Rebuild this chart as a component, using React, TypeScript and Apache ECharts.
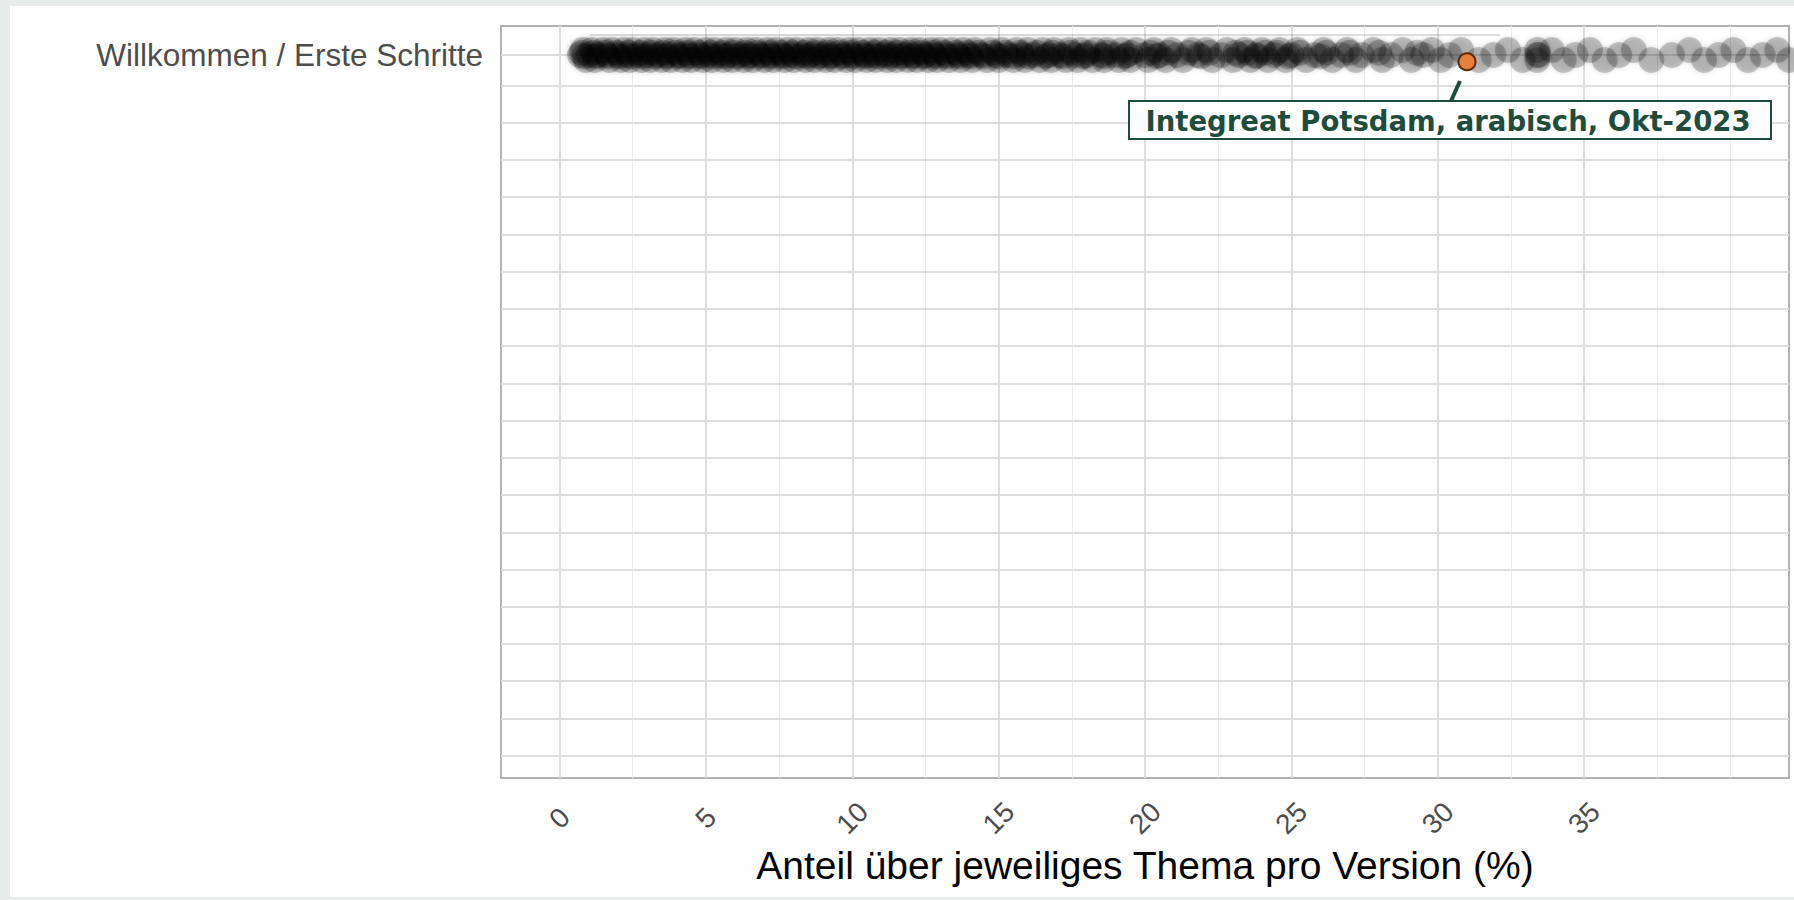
import React, { useEffect, useRef } from 'react';
import * as echarts from 'echarts';

// ---------- data ----------
const categories: string[] = [
  'Willkommen / Erste Schritte',
  '', '', '', '', '', '', '', '', '', '',
  '', '', '', '', '', '', '', '', '',
];

const xTickValues = [0, 5, 10, 15, 20, 25, 30, 35];
const xMajorGrid = [0, 5, 10, 15, 20, 25, 30, 35];
const xMinorGrid = [2.5, 7.5, 12.5, 17.5, 22.5, 27.5, 32.5, 37.5, 40];

// Shares (%) of the topic "Willkommen / Erste Schritte" per version, read off the strip
// (upper / two centre / middle / lower jitter positions)
const upperLane = [
  0.8, 1.1, 1.5, 1.8, 2.2, 2.5, 2.9, 3.2, 3.6, 3.9, 4.3, 4.6, 5.0, 5.3, 5.7, 6.0, 6.4, 6.7, 7.1, 7.4,
  7.8, 8.1, 8.5, 8.8, 9.2, 9.5, 9.9, 10.2, 10.6, 10.9, 11.3, 11.6, 12.0, 12.3, 12.7, 13.0, 13.4, 13.8,
  14.2, 14.7, 15.1, 15.6, 16.0, 16.5, 16.9, 17.4, 17.8, 18.3, 18.7, 19.2, 19.7,
  20.3, 20.9, 21.6, 22.1, 22.8, 23.4, 24.0, 24.6, 25.2, 26.1, 26.9, 27.8, 28.8, 29.8, 30.8,
  32.4, 33.4, 33.9, 35.2, 36.7, 38.6, 40.1, 41.6,
];
const coreLane = [
  0.85, 1.25, 1.65, 2.05, 2.45, 2.85, 3.25, 3.65, 4.05, 4.45, 4.85, 5.25, 5.65, 6.05, 6.45, 6.85,
  7.25, 7.65, 8.05, 8.45, 8.85, 9.25, 9.65, 10.05, 10.45, 10.85, 11.25, 11.65, 12.05, 12.45, 12.85,
  13.25, 13.65, 14.05, 14.5, 15.0, 15.5, 16.0, 16.6, 17.2, 17.9, 18.6, 19.3,
  20.4, 21.9, 23.8, 24.9, 26.0,
];
const coreLane2 = [
  0.75, 1.15, 1.55, 1.95, 2.35, 2.75, 3.15, 3.55, 3.95, 4.35, 4.75, 5.15, 5.55, 5.95, 6.35, 6.75,
  7.15, 7.55, 7.95, 8.35, 8.75, 9.15, 9.55, 9.95, 10.35, 10.75, 11.15, 11.55, 11.95, 12.35, 12.75,
  13.15, 13.55, 13.95, 14.3, 14.8, 15.25, 15.75, 16.3, 16.85, 17.45, 18.05, 18.7, 19.5,
  20.2, 20.8, 21.5, 22.2, 23.1, 23.5, 24.1, 24.5, 25.3, 26.2, 27.0, 28.0, 29.3,
];
const middleLane = [
  0.7, 1.0, 1.3, 1.6, 2.0, 2.3, 2.7, 3.0, 3.4, 3.7, 4.1, 4.4, 4.8, 5.1, 5.5, 5.8, 6.2, 6.5, 6.9, 7.2,
  7.6, 7.9, 8.3, 8.6, 9.0, 9.3, 9.7, 10.0, 10.4, 10.7, 11.1, 11.4, 11.8, 12.1, 12.5, 12.8, 13.2, 13.6, 14.0,
  14.4, 14.9, 15.3, 15.8, 16.2, 16.7, 17.1, 17.6, 18.0, 18.5, 19.0, 19.4, 20.0,
  20.5, 21.1, 21.8, 22.6, 23.2, 23.8, 24.4, 25.0, 25.8, 26.7, 27.4, 28.4, 29.5, 30.4, 31.9,
  33.4, 33.45, 34.7, 36.2, 38.0, 39.6, 41.1,
];
const lowerLane = [
  0.9, 1.2, 1.7, 2.1, 2.4, 2.8, 3.1, 3.5, 3.8, 4.2, 4.5, 4.9, 5.2, 5.6, 5.9, 6.3, 6.6, 7.0, 7.3, 7.7,
  8.0, 8.4, 8.7, 9.1, 9.4, 9.8, 10.1, 10.5, 10.8, 11.2, 11.5, 11.9, 12.2, 12.6, 12.9, 13.3, 13.7,
  14.1, 14.6, 15.0, 15.5, 15.9, 16.4, 16.8, 17.3, 17.7, 18.2, 18.6, 19.1, 19.5,
  20.1, 20.7, 21.3, 22.3, 23.0, 23.6, 24.2, 24.8, 25.5, 26.4, 27.2, 28.1, 29.1, 30.1, 31.4,
  32.9, 33.4, 34.3, 35.7, 37.3, 39.1, 40.6, 42.0,
];

const highlightName = 'Integreat Potsdam, arabisch, Okt-2023';
const highlightShare = 31.0;

const xTitle = 'Anteil über jeweiliges Thema pro Version (%)';

// ---------- layout ----------
const W = 1794;
const H = 900;
const GRID = { left: 501, top: 26, right: 5, bottom: 122 };
const Y_MIN = -0.6;
const Y_MAX = 19.6;
const FIRST_ROW_SHIFT = 0.18;
const LANE_OFFSET = 0.134;
const CORE_OFFSET = 0.03;
const CORE2_OFFSET = -0.06;
const HIGHLIGHT_OFFSET = 0.18;
const GREEN = '#1e4d3d';

export default function App() {
  const ref = useRef<HTMLDivElement>(null);

  useEffect(() => {
    document.body.style.margin = '0';
    if (!ref.current) return;
    const chart = echarts.init(ref.current, undefined, { renderer: 'svg', width: W, height: H });

    const rowPositions = categories.map((_, i) => (i === 0 ? FIRST_ROW_SHIFT : i));
    const welcomeRow = rowPositions[0];

    const majorStyle = { color: '#dedede', width: 2, type: 'solid' as const };
    const minorStyle = { color: '#ebebeb', width: 1, type: 'solid' as const };
    const gridLines = [
      ...xMinorGrid.map((v) => ({ xAxis: v, lineStyle: minorStyle })),
      ...xMajorGrid.map((v) => ({ xAxis: v, lineStyle: majorStyle })),
      ...rowPositions.map((v) => ({ yAxis: v, lineStyle: majorStyle })),
    ];

    const pointStyle = {
      color: '#000000',
      opacity: 0.2,
      shadowBlur: 5,
      shadowColor: 'rgba(0,0,0,0.6)',
    };
    const lane = (xs: number[], off: number) => ({
      type: 'scatter',
      z: 3,
      symbol: 'circle',
      symbolSize: 26,
      silent: true,
      itemStyle: pointStyle,
      data: xs.map((x) => [x, welcomeRow + off]),
    });

    const font = '"Liberation Sans", Arial, sans-serif';

    const option: any = {
      animation: false,
      backgroundColor: '#ffffff',
      grid: {
        ...GRID,
        show: true,
        borderColor: '#b3b3b3',
        borderWidth: 2,
        backgroundColor: 'transparent',
        containLabel: false,
      },
      xAxis: {
        type: 'value',
        min: -2,
        max: 42,
        axisLine: { show: false },
        axisTick: {
          show: true,
          length: 11,
          customValues: xTickValues,
          lineStyle: { color: '#b3b3b3', width: 2 },
        },
        axisLabel: {
          customValues: xTickValues,
          rotate: 45,
          align: 'center',
          verticalAlign: 'middle',
          fontSize: 28,
          fontFamily: font,
          color: '#4d4d4d',
          margin: 40,
        },
        splitLine: { show: false },
        minorSplitLine: { show: false },
        name: xTitle,
        nameLocation: 'middle',
        nameGap: 65,
        nameTextStyle: {
          fontSize: 39,
          fontFamily: font,
          color: '#000000',
        },
      },
      yAxis: {
        type: 'value',
        inverse: true,
        min: Y_MIN,
        max: Y_MAX,
        axisLine: { show: false },
        axisTick: {
          show: true,
          length: 10,
          customValues: rowPositions,
          lineStyle: { color: '#b3b3b3', width: 2 },
        },
        axisLabel: {
          customValues: rowPositions,
          fontSize: 31.5,
          fontFamily: font,
          color: '#4d4d4d',
          margin: 18,
          formatter: (v: number) => {
            const i = rowPositions.findIndex((p) => Math.abs(p - v) < 1e-6);
            return i >= 0 ? categories[i] : '';
          },
        },
        splitLine: { show: false },
      },
      series: [
        {
          type: 'scatter',
          data: [],
          silent: true,
          markLine: {
            silent: true,
            z: 1,
            symbol: ['none', 'none'],
            label: { show: false },
            emphasis: { disabled: true },
            animation: false,
            data: gridLines,
          },
        },
        lane(upperLane, -LANE_OFFSET),
        lane(coreLane2, CORE2_OFFSET),
        lane(coreLane, CORE_OFFSET),
        lane(middleLane, 0),
        lane(lowerLane, LANE_OFFSET),
        {
          type: 'scatter',
          name: highlightName,
          z: 10,
          symbol: 'circle',
          symbolSize: 17,
          silent: true,
          itemStyle: { color: '#e8803a', borderColor: '#5c2a0e', borderWidth: 2, opacity: 1 },
          data: [[highlightShare, welcomeRow + HIGHLIGHT_OFFSET]],
        },
      ],
      graphic: [
        { type: 'rect', z: -100, silent: true, shape: { x: 0, y: 0, width: 10, height: H }, style: { fill: '#e6ecea' } },
        { type: 'rect', z: -100, silent: true, shape: { x: 0, y: 0, width: W, height: 6 }, style: { fill: '#e6ecea' } },
        { type: 'rect', z: -100, silent: true, shape: { x: 0, y: H - 3, width: W, height: 3 }, style: { fill: '#e6ecea' } },
        {
          type: 'line', z: 50, silent: true,
          shape: { x1: 590, y1: 35, x2: 1500, y2: 35 },
          style: { stroke: 'rgba(0,0,0,0.25)', lineWidth: 1 },
        },
        {
          type: 'line', z: 100, silent: true,
          shape: { x1: 1460, y1: 81, x2: 1451, y2: 101 },
          style: { stroke: GREEN, lineWidth: 4 },
        },
        {
          type: 'rect', z: 100, silent: true,
          shape: { x: 1129, y: 101, width: 642, height: 38 },
          style: { fill: '#ffffff', stroke: GREEN, lineWidth: 2 },
        },
        {
          type: 'text', z: 101, silent: true,
          x: 1448, y: 121,
          style: {
            text: highlightName,
            fill: GREEN,
            font: 'bold 27.5px "DejaVu Sans"',
            align: 'center',
            verticalAlign: 'middle',
          },
        },
      ],
    };

    chart.setOption(option);
    return () => chart.dispose();
  }, []);

  return <div ref={ref} style={{ width: W, height: H }} />;
}
